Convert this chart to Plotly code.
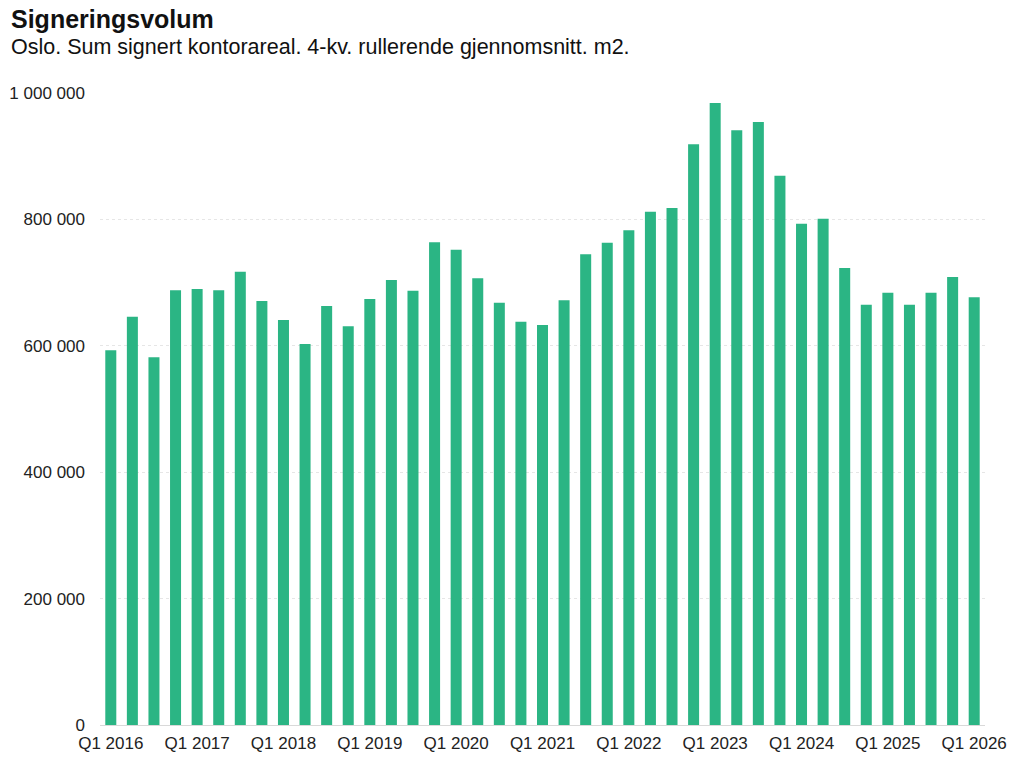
import plotly.graph_objects as go

# Kvartaler Q1 2016 - Q1 2026
quarters = [f"Q{q} {y}" for y in range(2016, 2027) for q in range(1, 5)][:41]

# 4-kv. rullerende gjennomsnitt, m2 (lest av bildet)
volum = [
    593000, 646000, 582000, 688000,
    690000, 688000, 717000, 671000,
    641000, 603000, 663000, 631000,
    674000, 704000, 687000, 764000,
    752000, 707000, 668000, 638000,
    633000, 672000, 745000, 763000,
    783000, 812000, 818000, 919000,
    984000, 941000, 954000, 869000,
    793000, 801000, 723000, 665000,
    684000, 665000, 684000, 709000,
    677000,
]

tick_vals = [q for q in quarters if q.startswith("Q1")]
y_ticks = [0, 200000, 400000, 600000, 800000, 1000000]

FONT = "Liberation Sans, Arial, sans-serif"
GREEN = "#2bb584"

fig = go.Figure()
fig.add_trace(go.Bar(
    x=quarters,
    y=volum,
    marker=dict(color=GREEN, line=dict(width=0)),
    hovertemplate="%{x}: %{y:,.0f}<extra></extra>",
))

# siden har 8px body-margin, så figuren gjøres tilsvarende mindre
fig.update_layout(
    width=1008, height=752,
    paper_bgcolor="white", plot_bgcolor="white",
    margin=dict(l=92, r=31, t=85, b=35),
    bargap=0.49,
    showlegend=False,
    separators=", ",
    font=dict(family=FONT, size=17, color="#222222"),
)

x_left = -91 / 885
fig.add_annotation(
    text="<b>Signeringsvolum</b>", xref="paper", yref="paper",
    x=x_left, y=1.0, xanchor="left", yanchor="middle", yshift=74,
    showarrow=False, font=dict(size=25, color="#111111", family=FONT),
)
fig.add_annotation(
    text="Oslo. Sum signert kontorareal. 4-kv. rullerende gjennomsnitt. m2.",
    xref="paper", yref="paper",
    x=x_left, y=1.0, xanchor="left", yanchor="middle", yshift=46,
    showarrow=False, font=dict(size=21.5, color="#111111", family=FONT),
)

fig.update_xaxes(
    type="category", automargin=False,
    tickmode="array", tickvals=tick_vals, ticktext=tick_vals,
    showgrid=False, showline=True, linecolor="#d9d9d9", linewidth=1,
    ticks="", tickfont=dict(size=17, color="#222222"), ticklabelstandoff=3,
    range=[-0.5, len(quarters) - 0.5],
)
fig.update_yaxes(
    range=[0, 1000000], automargin=False,
    tickmode="array", tickvals=y_ticks, tickformat=",d",
    showgrid=True, gridcolor="#e6e6e6", griddash="dot", gridwidth=1,
    zeroline=False, showline=False, ticks="", ticklabelstandoff=14,
    tickfont=dict(size=17, color="#222222"),
)

fig.write_html("out.html")
